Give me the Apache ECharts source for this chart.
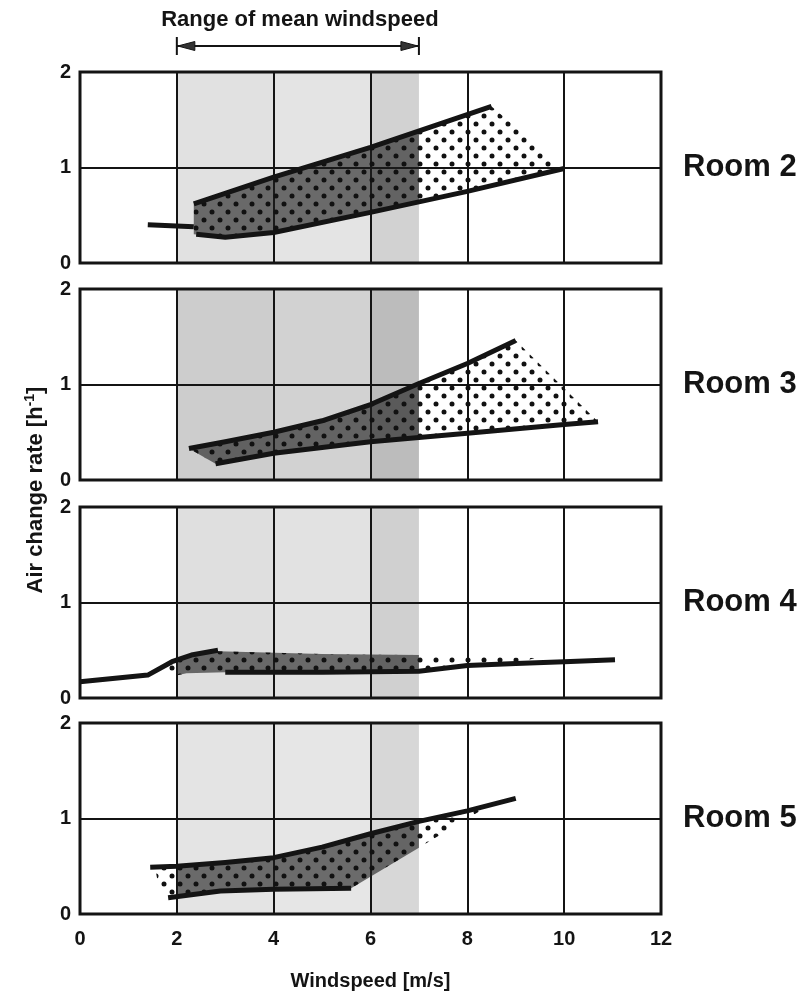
<!DOCTYPE html>
<html><head><meta charset="utf-8">
<script src="https://cdn.jsdelivr.net/npm/echarts@6/dist/echarts.min.js"></script>
<style>html,body{margin:0;padding:0;background:#fff}#c{width:806px;height:995px}</style>
</head><body><div id="c"></div>
<script>
// ---------- data ----------
const rooms = ['Room 2', 'Room 3', 'Room 4', 'Room 5'];
const xTicks = [0, 2, 4, 6, 8, 10, 12];
const yTicks = [0, 1, 2];
const meanRange = [2, 7];                 // range of mean windspeed
const bandCols = [[2, 4], [4, 6], [6, 7]]; // shaded columns inside the range

const room2Upper = [[2.35, 0.62], [4, 0.90], [6, 1.21], [8.5, 1.64]];
const room2Lower = [[2.4, 0.30], [3, 0.27], [4, 0.32], [6, 0.53], [8, 0.75], [10, 0.99]];
const room2Stub  = [[1.4, 0.40], [2.35, 0.38]];
const room2Area  = [[2.35, 0.62], [4, 0.90], [6, 1.21], [8.5, 1.64], [10, 0.99], [8, 0.75], [6, 0.53], [4, 0.32], [3, 0.27], [2.35, 0.30]];

const room3Upper = [[2.25, 0.33], [3, 0.40], [4, 0.50], [5, 0.62], [6, 0.79], [7, 1.01], [8, 1.22], [9, 1.46]];
const room3Lower = [[2.8, 0.17], [4, 0.28], [6, 0.40], [8, 0.49], [10, 0.58], [10.7, 0.61]];
const room3Area  = [[2.25, 0.33], [3, 0.40], [4, 0.50], [5, 0.62], [6, 0.79], [7, 1.01], [8, 1.22], [9, 1.46], [10.7, 0.61], [10, 0.58], [8, 0.49], [6, 0.40], [4, 0.28], [2.8, 0.17]];

const room4Upper = [[0, 0.17], [1.4, 0.24], [1.9, 0.38], [2.3, 0.45], [2.85, 0.50]];
const room4Lower = [[3, 0.27], [5, 0.27], [7, 0.28], [8, 0.34], [9, 0.36], [10, 0.38], [11.05, 0.40]];
const room4Area  = [[1.75, 0.30], [1.9, 0.38], [2.3, 0.45], [2.85, 0.49], [5, 0.46], [7, 0.45], [9.4, 0.42], [9, 0.36], [8, 0.34], [7, 0.28], [5, 0.27], [3, 0.27], [2.2, 0.26], [1.85, 0.22]];

const room5Upper = [[1.45, 0.49], [2, 0.50], [3, 0.54], [4, 0.59], [5, 0.70], [6, 0.84], [7, 0.97], [8, 1.08], [9, 1.21]];
const room5Lower = [[1.82, 0.17], [2.9, 0.24], [4, 0.26], [5.6, 0.27]];
const room5Area  = [[1.55, 0.49], [2, 0.50], [3, 0.54], [4, 0.59], [5, 0.70], [6, 0.84], [7, 0.97], [8, 1.08], [8.4, 1.12], [5.6, 0.27], [4, 0.26], [2.9, 0.24], [1.85, 0.17], [1.6, 0.35]];

const panelLines = [
  [room2Upper, room2Lower, room2Stub],
  [room3Upper, room3Lower],
  [room4Upper, room4Lower],
  [room5Upper, room5Lower]
];
const panelAreas = [room2Area, room3Area, room4Area, room5Area];

// ---------- styles / layout ----------
const FONT = '"Liberation Sans", Arial, Helvetica, sans-serif';
const INK = '#141414';
const gridTops = [72, 289, 507, 723];
const gridH = 191, gridLeft = 80, gridW = 581;
const bandShades = [
  ['#e1e1e1', '#e4e4e4', '#d2d2d2'],
  ['#cdcdcd', '#d2d2d2', '#bcbcbc'],
  ['#dfdfdf', '#e2e2e2', '#d0d0d0'],
  ['#e4e4e4', '#e6e6e6', '#d7d7d7']
];

const pc = document.createElement('canvas');
pc.width = 16; pc.height = 16;
const pctx = pc.getContext('2d');
pctx.fillStyle = '#111';
[[4, 4], [12, 12]].forEach(function (d) { pctx.beginPath(); pctx.arc(d[0], d[1], 2.5, 0, Math.PI * 2); pctx.fill(); });
const dotPattern = { image: pc, repeat: 'repeat' };

function clipX(poly, a, b) {
  function clip(pts, inside, inter) {
    const out = [];
    for (let i = 0; i < pts.length; i++) {
      const cur = pts[i], prev = pts[(i + pts.length - 1) % pts.length];
      const ci = inside(cur), pi = inside(prev);
      if (ci) { if (!pi) out.push(inter(prev, cur)); out.push(cur); }
      else if (pi) out.push(inter(prev, cur));
    }
    return out;
  }
  const ix = function (x) { return function (p, q) { return [x, p[1] + (q[1] - p[1]) * (x - p[0]) / (q[0] - p[0])]; }; };
  let r = clip(poly, function (p) { return p[0] >= a; }, ix(a));
  r = clip(r, function (p) { return p[0] <= b; }, ix(b));
  return r;
}

const grids = [], xAxes = [], yAxes = [], series = [];
for (let i = 0; i < 4; i++) {
  const last = i === 3;
  grids.push({ left: gridLeft, top: gridTops[i], width: gridW, height: gridH, show: true, borderColor: INK, borderWidth: 3, backgroundColor: 'transparent' });
  xAxes.push({
    type: 'value', gridIndex: i, min: xTicks[0], max: xTicks[xTicks.length - 1], interval: 2,
    axisLine: { show: false }, axisTick: { show: false },
    splitLine: { show: true, lineStyle: { color: INK, width: 2 } },
    axisLabel: { show: last, fontSize: 20, fontWeight: 'bold', fontFamily: FONT, color: INK, margin: 15 },
    name: last ? 'Windspeed [m/s]' : '', nameLocation: 'middle', nameGap: 57,
    nameTextStyle: { fontSize: 20, fontWeight: 'bold', fontFamily: FONT, color: INK }
  });
  yAxes.push({
    type: 'value', gridIndex: i, min: yTicks[0], max: yTicks[yTicks.length - 1], interval: 1,
    axisLine: { show: false }, axisTick: { show: false },
    splitLine: { show: true, lineStyle: { color: INK, width: 2 } },
    axisLabel: { fontSize: 20, fontWeight: 'bold', fontFamily: FONT, color: INK, margin: 9 }
  });
  // shaded windspeed range
  series.push({
    type: 'custom', xAxisIndex: i, yAxisIndex: i, z: -1, silent: true,
    data: bandCols,
    renderItem: (function (pi) {
      return function (params, api) {
        const p0 = api.coord([api.value(0), yTicks[yTicks.length - 1]]);
        const p1 = api.coord([api.value(1), yTicks[0]]);
        return { type: 'rect', shape: { x: p0[0], y: p0[1], width: p1[0] - p0[0], height: p1[1] - p0[1] }, style: { fill: bandShades[pi][params.dataIndex] } };
      };
    })(i)
  });
  // dotted range area
  series.push({
    type: 'custom', xAxisIndex: i, yAxisIndex: i, z: 2, silent: true,
    data: [[0, 0]],
    renderItem: (function (pi) {
      return function (params, api) {
        const poly = panelAreas[pi];
        const inBand = clipX(poly, meanRange[0], meanRange[1]);
        return {
          type: 'group', children: [
            { type: 'polygon', shape: { points: inBand.map(function (p) { return api.coord(p); }) }, style: { fill: 'rgba(30,30,30,0.62)' } },
            { type: 'polygon', shape: { points: poly.map(function (p) { return api.coord(p); }) }, style: { fill: dotPattern } }
          ]
        };
      };
    })(i)
  });
  panelLines[i].forEach(function (ln) {
    series.push({
      type: 'line', xAxisIndex: i, yAxisIndex: i, z: 3, data: ln, showSymbol: false, symbol: 'none',
      lineStyle: { color: INK, width: 5, cap: 'butt', join: 'round' }, silent: true
    });
  });
}

const chart = echarts.init(document.getElementById('c'), null, { renderer: 'canvas' });
chart.setOption({
  animation: false, backgroundColor: '#fff',
  grid: grids, xAxis: xAxes, yAxis: yAxes, series: series
});

// annotations positioned through the axes
const xa = chart.convertToPixel({ xAxisIndex: 0 }, meanRange[0]);
const xb = chart.convertToPixel({ xAxisIndex: 0 }, meanRange[1]);
const ay = 46;
const graphics = [
  { type: 'text', x: (xa + xb) / 2 + 2, y: 20, style: { text: 'Range of mean windspeed', fontSize: 22, fontWeight: 'bold', fontFamily: FONT, fill: INK, align: 'center', verticalAlign: 'middle' } },
  { type: 'line', shape: { x1: xa, y1: ay, x2: xb, y2: ay }, style: { stroke: INK, lineWidth: 2 } },
  { type: 'line', shape: { x1: xa, y1: ay - 9, x2: xa, y2: ay + 9 }, style: { stroke: INK, lineWidth: 2 } },
  { type: 'line', shape: { x1: xb, y1: ay - 9, x2: xb, y2: ay + 9 }, style: { stroke: INK, lineWidth: 2 } },
  { type: 'polygon', shape: { points: [[xa + 1, ay], [xa + 18, ay - 4.5], [xa + 18, ay + 4.5]] }, style: { fill: '#333', stroke: INK, lineWidth: 1 } },
  { type: 'polygon', shape: { points: [[xb - 1, ay], [xb - 18, ay - 4.5], [xb - 18, ay + 4.5]] }, style: { fill: '#333', stroke: INK, lineWidth: 1 } },
  { type: 'text', x: 36, y: 490, rotation: Math.PI / 2,
    style: { text: 'Air change rate [h{sup|-1}]', fontSize: 22, fontWeight: 'bold', fontFamily: FONT, fill: INK, align: 'center', verticalAlign: 'middle',
      rich: { sup: { fontSize: 14, fontWeight: 'bold', fontFamily: FONT, fill: INK, verticalAlign: 'top', padding: [0, 0, 12, 0] } } } }
];
rooms.forEach(function (r, i) {
  const y = chart.convertToPixel({ yAxisIndex: i }, 1);
  graphics.push({ type: 'text', x: 683, y: y, style: { text: r, fontSize: 31, fontWeight: 'bold', fontFamily: FONT, fill: INK, align: 'left', verticalAlign: 'middle' } });
});
chart.setOption({ graphic: graphics });
</script></body></html>
